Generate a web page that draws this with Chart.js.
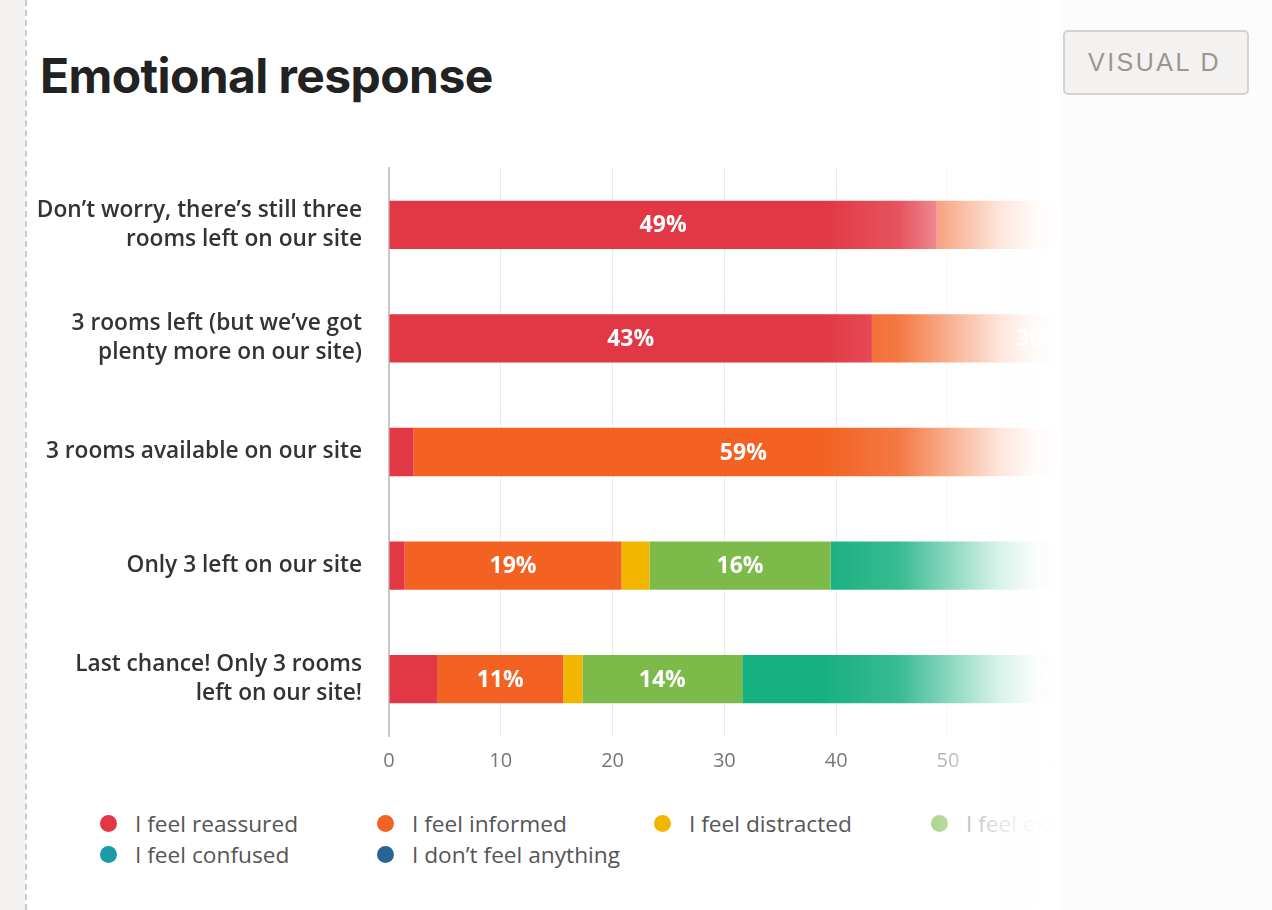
<!DOCTYPE html>
<html>
<head>
<meta charset="utf-8">
<script src="https://cdn.jsdelivr.net/npm/chart.js@4.4.1/dist/chart.umd.min.js"></script>
<style>
    html, body { margin: 0; padding: 0; width: 1272px; height: 910px; overflow: hidden; background: #fcfcfc; font-family: "Open Sans", sans-serif; }
    .gutter { position: absolute; left: 0; top: 0; width: 25px; height: 910px; background: #f3f2f0; }
    .dash { position: absolute; left: 25px; top: 0; height: 910px; border-left: 2px dashed #cdcac5; }
    .main { position: absolute; left: 27px; top: 0; width: 1033px; height: 910px; background: #fff; overflow: hidden; }
    h1 { position: absolute; left: 13px; top: 52px; margin: 0; font: 700 48px/48px Inter, sans-serif; color: #222; letter-spacing: -0.6px; white-space: nowrap; }
    .chartbox { position: absolute; left: 0; top: 150px; width: 1510px; height: 636px; }
    .legend { position: absolute; left: 73px; top: 808px; width: 1200px; display: flex; flex-wrap: wrap; }
    .item { width: 277px; height: 31px; display: flex; align-items: center; font-size: 22.7px; color: #555; white-space: nowrap; }
    .dot { width: 17px; height: 17px; border-radius: 50%; margin-right: 18px; flex: none; }
    .fade { position: absolute; left: 793px; top: 0; width: 240px; height: 910px; pointer-events: none;
        background: linear-gradient(to right, rgba(255,255,255,0) 0%, rgba(255,255,255,0.15) 33%, rgba(255,255,255,0.5) 54%, rgba(255,255,255,0.84) 75%, rgba(255,255,255,0.98) 90%, #fff 100%); }
    .btn { position: absolute; left: 1063px; top: 30px; width: 186px; height: 65px; box-sizing: border-box; background: #f3f2f0; border: 2px solid #d6d3ce; border-radius: 5px;
        font: 25px/61px "Liberation Sans", Arial, sans-serif; color: #9b9690; letter-spacing: 2.5px; padding-left: 23px; overflow: hidden; white-space: nowrap; }
</style>
</head>
<body>
<div class="gutter"></div>
<div class="dash"></div>
<div class="main">
    <h1>Emotional response</h1>
    <div class="chartbox"><canvas id="emoChart"></canvas></div>
    <div class="legend" id="legend"></div>
    <div class="fade"></div>
</div>
<div class="btn">VISUAL D</div>

<script>
// kategori (sumbu y)
const messages = [
    ['Don’t worry, there’s still three', 'rooms left on our site'],
    ['3 rooms left (but we’ve got', 'plenty more on our site)'],
    '3 rooms available on our site',
    'Only 3 left on our site',
    ['Last chance! Only 3 rooms', 'left on our site!']
];

// seri (persen per pesan)
const responses = ['I feel reassured', 'I feel informed', 'I feel distracted', 'I feel excited', 'I feel confused', 'I don’t feel anything'];
const reassured  = [49, 43.2, 2.2, 1.4, 4.3];
const informed   = [36, 30, 59, 19.4, 11.3];
const distracted = [2, 3, 4, 2.5, 1.7];
const excited    = [6, 14, 20, 16.2, 14.3];
const confused   = [4, 6, 9, 52, 58];
const nothing    = [3, 3.8, 5.8, 8.5, 10.4];

const xTicks = [0, 10, 20, 30, 40, 50, 60, 70, 80, 90, 100];

const barColors    = ['#e23744', '#f36223', '#f2b500', '#7cba4a', '#17b07f', '#2a6496'];
const legendColors = ['#e23744', '#f36223', '#f2b500', '#7cba4a', '#1b9ba6', '#2a6496'];

const seriesData = [reassured, informed, distracted, excited, confused, nothing];

// label persen putih di tengah segmen
const barLabels = {
    id: 'barLabels',
    afterDatasetsDraw(chart) {
        const ctx = chart.ctx;
        ctx.save();
        ctx.font = '700 23px "Open Sans"';
        ctx.fillStyle = '#fff';
        ctx.textAlign = 'center';
        ctx.textBaseline = 'middle';
        chart.data.datasets.forEach((ds, i) => {
            chart.getDatasetMeta(i).data.forEach((bar, j) => {
                const v = ds.data[j];
                if (v < 10) return;
                const p = bar.getCenterPoint();
                ctx.fillText(Math.round(v) + '%', p.x, p.y + 1);
            });
        });
        ctx.restore();
    }
};

new Chart(document.getElementById('emoChart'), {
    type: 'bar',
    data: {
        labels: messages,
        datasets: responses.map((name, i) => ({
            label: name,
            data: seriesData[i],
            backgroundColor: barColors[i],
            borderWidth: 0,
            barPercentage: 0.425,
            categoryPercentage: 1
        }))
    },
    options: {
        indexAxis: 'y',
        responsive: true,
        maintainAspectRatio: false,
        animation: false,
        layout: { padding: { top: 18, right: 20, bottom: 0, left: 0 } },
        plugins: { legend: { display: false }, tooltip: { enabled: false } },
        scales: {
            x: {
                stacked: true,
                min: 0,
                max: 100,
                afterBuildTicks: (scale) => { scale.ticks = xTicks.map(v => ({ value: v })); },
                grid: { color: '#ebebeb', drawTicks: false },
                border: { display: false },
                ticks: { color: '#777', padding: 13, font: { family: 'Open Sans', size: 20 } }
            },
            y: {
                stacked: true,
                afterFit: (scale) => { scale.width = 362; scale.paddingTop = 0; scale.paddingBottom = 0; },
                grid: { display: false, drawTicks: false },
                border: { display: true, color: '#c8c8c8', width: 2 },
                ticks: { color: '#333', padding: 27, font: { family: 'Open Sans', size: 22.7, weight: '600', lineHeight: 1.28 } }
            }
        }
    },
    plugins: [barLabels]
});

// legenda HTML dengan kolom rata
const legendEl = document.getElementById('legend');
responses.forEach((name, i) => {
    const item = document.createElement('div');
    item.className = 'item';
    item.innerHTML = '<span class="dot" style="background:' + legendColors[i] + '"></span>' + name;
    legendEl.appendChild(item);
});
</script>
</body>
</html>
